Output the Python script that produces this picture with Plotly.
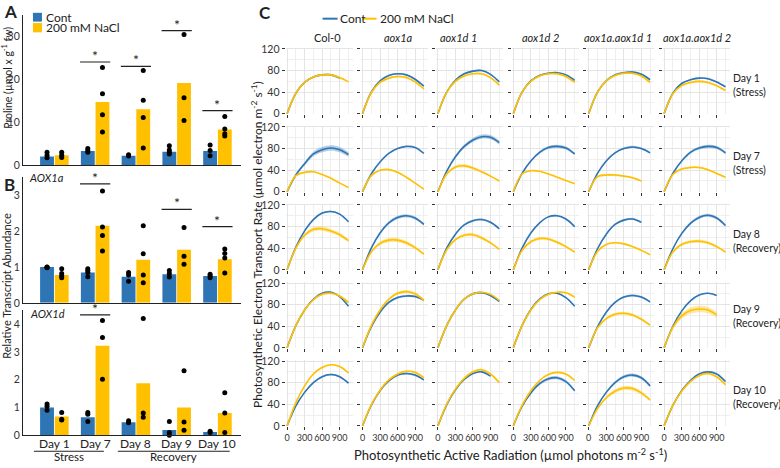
import plotly.graph_objects as go

BLUE = "#2E75B6"
GOLD = "#FFC000"
BLUE_BAND = "rgba(46,117,182,0.35)"
GOLD_BAND = "rgba(255,192,0,0.35)"
FONT = "Lato"
W, H = 780, 468

# ---------------- panel A / B data ----------------
days = ["Day 1", "Day 7", "Day 8", "Day 9", "Day 10"]

proline_cont = [2.0, 3.3, 2.2, 3.1, 3.3]
proline_nacl = [2.3, 14.7, 13.0, 19.1, 8.3]
proline_cont_pts = [[3.0, 2.3, 1.7], [3.9, 3.4, 3.0], [2.4, 2.1], [4.5, 3.5, 3.0, 2.6], [4.7, 3.4, 2.2]]
proline_nacl_pts = [[3.0, 2.3, 1.8], [22.7, 16.6, 11.7, 7.7], [22.0, 15.1, 11.1, 4.0],
                    [30.4, 15.7, 10.4], [11.3, 8.4, 7.3, 6.8]]
proline_sig = [None, 24.0, 23.0, 31.3, 12.7]

aox1a_cont = [1.0, 0.85, 0.73, 0.8, 0.75]
aox1a_nacl = [0.78, 2.15, 1.2, 1.48, 1.22]
aox1a_cont_pts = [[1.0, 0.99, 0.98], [0.95, 0.9, 0.85, 0.73], [0.85, 0.78, 0.6], [0.9, 0.82, 0.72], [0.8, 0.75, 0.7]]
aox1a_nacl_pts = [[0.95, 0.82, 0.75, 0.7], [3.12, 2.12, 1.88, 1.45], [2.15, 1.37, 0.78, 0.56],
                  [2.1, 1.3, 1.08], [1.5, 1.38, 1.25, 0.83]]
aox1a_sig = [None, 3.32, None, 2.61, 2.13]

aox1d_cont = [1.0, 0.65, 0.47, 0.19, 0.12]
aox1d_nacl = [0.68, 3.22, 1.87, 1.0, 0.8]
aox1d_cont_pts = [[1.13, 1.05, 0.9], [0.82, 0.76, 0.5], [0.52, 0.45], [0.5, 0.1, 0.0], [0.15, 0.1]]
aox1d_nacl_pts = [[0.82, 0.58, 0.55], [4.13, 3.52, 2.02], [4.2, 0.8, 0.65], [2.32, 0.48, 0.18], [1.53, 0.8, 0.1]]
aox1d_sig = [None, 4.33, None, None, None]

# ---------------- panel C data ----------------
genotypes = ["Col-0", "<i>aox1a</i>", "<i>aox1d 1</i>", "<i>aox1d 2</i>", "<i>aox1a.aox1d 1</i>", "<i>aox1a.aox1d 2</i>"]
row_labels = ["Day 1<br>(Stress)", "Day 7<br>(Stress)", "Day 8<br>(Recovery)", "Day 9<br>(Recovery)", "Day 10<br>(Recovery)"]
PAR = [0, 150, 300, 450, 600, 750, 900, 1050]

cont_day1 = [[0, 38, 58, 68, 72, 72, 66, None], [0, 40, 61, 71, 74, 72, 64, 51], [0, 40, 62, 74, 79, 80, 73, 59],
             [0, 40, 61, 71, 75, 76, 72, 62], [0, 40, 61, 72, 76, 77, 73, 63], [0, 38, 56, 63, 66, 65, 59, 50]]
nacl_day1 = [[0, 38, 58, 68, 72, 72, 67, 59], [0, 39, 58, 66, 69, 67, 59, 46], [0, 40, 60, 70, 74, 74, 67, 53],
             [0, 40, 60, 70, 74, 74, 69, 58], [0, 40, 61, 71, 75, 75, 70, 58], [0, 37, 52, 58, 60, 58, 52, 43]]
cont_day7 = [[0, 31, 52, 70, 78, 81, 78, 69], [0, 33, 55, 71, 80, 84, 82, 71], [0, 38, 65, 84, 96, 102, 101, 91],
             [0, 34, 57, 73, 82, 84, 81, 70], [0, 34, 57, 72, 80, 83, 80, 72], [0, 34, 57, 73, 81, 84, 82, 72]]
nacl_day7 = [[0, 30, 36, 37, 32, 25, 16, 8], [0, 30, 40, 41, 36, 27, 16, 5], [0, 33, 46, 48, 44, 37, 29, 20],
             [0, 33, 39, 38, 33, 27, 21, 15], [0, 28, 31, 31, 29, 26, 20, None], [0, 32, 42, 45, 45, 41, 34, 27]]
cont_day8 = [[0, 42, 72, 93, 105, 108, 103, 89], [0, 40, 68, 87, 97, 100, 96, 84], [0, 40, 66, 83, 91, 93, 88, 76],
             [0, 40, 68, 87, 98, 100, 94, 80], [0, 39, 66, 84, 92, 94, 88, None], [0, 39, 67, 86, 97, 101, 96, 82]]
nacl_day8 = [[0, 40, 64, 75, 76, 72, 65, 54], [0, 33, 49, 55, 55, 50, 41, 29], [0, 37, 56, 64, 65, 59, 50, 38],
             [0, 36, 52, 58, 57, 51, 43, 33], [0, 34, 47, 50, 48, 43, 36, 28], [0, 33, 47, 52, 53, 50, 43, 33]]
cont_day9 = [[0, 41, 70, 90, 101, 103, 95, 77], [0, 39, 66, 84, 93, 96, 95, 88], [0, 41, 70, 90, 100, 102, 97, 86],
             [0, 41, 71, 90, 100, 101, 93, 77], [0, 39, 66, 84, 94, 97, 94, 85], [0, 40, 68, 87, 98, 101, 97, None]]
nacl_day9 = [[0, 41, 70, 89, 99, 101, 96, 84], [0, 41, 70, 90, 101, 104, 100, 88], [0, 41, 70, 90, 100, 103, 99, 88],
             [0, 41, 70, 89, 99, 103, 102, 94], [0, 37, 54, 62, 64, 61, 53, 42], [0, 38, 59, 69, 72, 70, 61, None]]
cont_day10 = [[0, 37, 62, 80, 91, 95, 91, 79], [0, 38, 65, 83, 94, 97, 94, 85], [0, 39, 67, 86, 97, 100, 92, None],
              [0, 36, 61, 78, 87, 89, 82, 65], [0, 37, 62, 80, 91, 94, 89, 74], [0, 38, 65, 84, 96, 100, 96, 82]]
nacl_day10 = [[0, 43, 74, 96, 108, 113, 110, 98], [0, 39, 66, 85, 96, 101, 99, 89], [0, 40, 68, 88, 100, 104, 96, 80],
              [0, 38, 65, 84, 95, 99, 96, 84], [0, 32, 52, 64, 70, 69, 61, 48], [0, 38, 64, 82, 93, 97, 91, 76]]

# half-width of the shaded error band at the curve peak
cont_err = [[1.5, 1.5, 1.5, 1.5, 2, 1.5], [5, 0.5, 4, 3, 2, 3], [1.5, 3, 2, 1.5, 2, 3],
            [1.5, 2, 2, 1, 2, 1], [2, 2, 1, 3, 3, 1]]
nacl_err = [[1.5, 2, 2, 2, 2, 2], [1, 1.5, 3, 1, 2, 2], [4, 4, 3, 3, 1.5, 3],
            [2, 3, 1.5, 1.5, 3, 6], [1.5, 1.5, 1.5, 1.5, 4, 2]]

cont_rows = [cont_day1, cont_day7, cont_day8, cont_day9, cont_day10]
nacl_rows = [nacl_day1, nacl_day7, nacl_day8, nacl_day9, nacl_day10]


def px(x):
    return x / W


def py(y):
    return 1 - y / H


fig = go.Figure()
layout = {}
shapes = []
annotations = []


def ann(x, y, text, size=12, xanchor="center", yanchor="middle", angle=0, **kw):
    annotations.append(dict(x=px(x), y=py(y), xref="paper", yref="paper", text=text, showarrow=False,
                            font=dict(size=size, color="#222", family=FONT), xanchor=xanchor,
                            yanchor=yanchor, textangle=angle, **kw))


# ---------------- bar panels ----------------
bar_panels = [
    (1, proline_cont, proline_nacl, proline_cont_pts, proline_nacl_pts, proline_sig, (10, 164), 35, [0, 10, 20, 30]),
    (2, aox1a_cont, aox1a_nacl, aox1a_cont_pts, aox1a_nacl_pts, aox1a_sig, (176.6, 305), 3.5, [0, 1, 2, 3]),
    (3, aox1d_cont, aox1d_nacl, aox1d_cont_pts, aox1d_nacl_pts, aox1d_sig, (312.5, 440.7), 4.5, [0, 1, 2, 3, 4]),
]
xs = list(range(len(days)))
for k, cont, nacl, cpts, npts, sig, (top, bot), ymax, yt in bar_panels:
    xa, ya = ("x", "y") if k == 1 else (f"x{k}", f"y{k}")
    fig.add_trace(go.Bar(x=xs, y=cont, width=0.34, offset=-0.35, marker=dict(color=BLUE, line_width=0),
                         showlegend=False, xaxis=xa, yaxis=ya))
    fig.add_trace(go.Bar(x=xs, y=nacl, width=0.34, offset=0.01, marker=dict(color=GOLD, line_width=0),
                         showlegend=False, xaxis=xa, yaxis=ya))
    dx, dy = [], []
    for i in xs:
        for v in cpts[i]:
            dx.append(i - 0.18)
            dy.append(v)
        for v in npts[i]:
            dx.append(i + 0.18)
            dy.append(v)
    fig.add_trace(go.Scatter(x=dx, y=dy, mode="markers", marker=dict(color="black", size=5),
                             showlegend=False, xaxis=xa, yaxis=ya, cliponaxis=False))
    for i, s in enumerate(sig):
        if s is None:
            continue
        shapes.append(dict(type="line", xref=xa, yref=ya, x0=i - 0.37, x1=i + 0.37, y0=s, y1=s,
                           line=dict(color="#222", width=1.2)))
        annotations.append(dict(x=i, y=s, xref=xa, yref=ya, text="*", showarrow=False, yanchor="bottom",
                                yshift=-4, font=dict(size=14, color="#222", family=FONT)))
    key = "" if k == 1 else str(k)
    layout["xaxis" + key] = dict(domain=[px(22), px(240)], range=[-0.77, 4.57], anchor=ya,
                                 showline=True, linecolor="#222", linewidth=1.2, showgrid=False,
                                 zeroline=False, ticks="", showticklabels=False)
    layout["yaxis" + key] = dict(domain=[py(bot), py(top)], range=[0, ymax], anchor=xa, tickvals=yt,
                                 showline=True, linecolor="#222", linewidth=1.2, showgrid=False,
                                 zeroline=False, ticks="", ticklen=0,
                                 tickfont=dict(size=10.5, color="#333", family=FONT))

# day labels under the AOX1d panel
for i, d in enumerate(days):
    annotations.append(dict(x=i, y=py(449), xref="x3", yref="paper", text=d, showarrow=False,
                            font=dict(size=12, color="#222", family=FONT), yanchor="middle"))

# bar legend (panel A)
shapes.append(dict(type="rect", xref="paper", yref="paper", x0=px(32), x1=px(41), y0=py(17), y1=py(8),
                   fillcolor=BLUE, line_width=0))
shapes.append(dict(type="rect", xref="paper", yref="paper", x0=px(32), x1=px(41), y0=py(28), y1=py(18.5),
                   fillcolor=GOLD, line_width=0))
ann(43, 12.5, "Cont", xanchor="left")
ann(43, 23.5, "200 mM NaCl", xanchor="left")

# labels for panels A and B
ann(1, 7, "<b>A</b>", size=17, xanchor="left")
ann(1, 184, "<b>B</b>", size=17, xanchor="left")
ann(5.5, 74, "Proline (µmol x g<sup>-1</sup> fw)", size=10.5, angle=-90)
ann(5.5, 287, "Relative Transcript Abundance", size=11, angle=-90)
ann(26, 177, "<i>AOX1a</i>", size=11, xanchor="left")
ann(27, 316, "<i>AOX1d</i>", size=11, xanchor="left")

# stress / recovery groups
shapes.append(dict(type="line", xref="paper", yref="paper", x0=px(33), x1=px(103), y0=py(457), y1=py(457),
                   line=dict(color="#222", width=1)))
shapes.append(dict(type="line", xref="paper", yref="paper", x0=px(117), x1=px(229), y0=py(457), y1=py(457),
                   line=dict(color="#222", width=1)))
ann(68, 462, "Stress", size=11.5)
ann(173, 462, "Recovery", size=11.5)

# ---------------- panel C ----------------
for r in range(5):
    top120 = 45 + r * 79.9
    bot0 = top120 + 66.4
    ppu = 66.4 / 120
    for c in range(6):
        k = 4 + r * 6 + c
        xa, ya = f"x{k}", f"y{k}"
        left = 285 + c * 75.5
        for vals_rows, err_rows, color, band in ((cont_rows, cont_err, BLUE, BLUE_BAND),
                                                 (nacl_rows, nacl_err, GOLD, GOLD_BAND)):
            vals = vals_rows[r][c]
            xv = [p for p, v in zip(PAR, vals) if v is not None]
            yv = [v for v in vals if v is not None]
            peak = max(yv)
            e = err_rows[r][c]
            up = [v + e * v / peak for v in yv]
            lo = [v - e * v / peak for v in yv]
            fig.add_trace(go.Scatter(x=xv, y=up, mode="lines", line=dict(width=0, shape="spline", color=color),
                                     hoverinfo="skip", showlegend=False, xaxis=xa, yaxis=ya))
            fig.add_trace(go.Scatter(x=xv, y=lo, mode="lines", line=dict(width=0, shape="spline", color=color),
                                     fill="tonexty", fillcolor=band, hoverinfo="skip", showlegend=False,
                                     xaxis=xa, yaxis=ya))
            fig.add_trace(go.Scatter(x=xv, y=yv, mode="lines", line=dict(width=1.6, shape="spline", color=color),
                                     showlegend=False, xaxis=xa, yaxis=ya))
        layout[f"xaxis{k}"] = dict(domain=[px(left), px(left + 67)], range=[-25, 1120], anchor=ya,
                                   tick0=0, dtick=300, showgrid=True, gridcolor="#e4e4e4", gridwidth=1,
                                   minor=dict(dtick=150, showgrid=True, gridcolor="#efefef", ticks=""),
                                   zeroline=False, showline=False, ticks="outside", ticklen=3,
                                   tickcolor="#333", showticklabels=(r == 4), tickangle=0,
                                   tickfont=dict(size=9, color="#333", family=FONT))
        layout[f"yaxis{k}"] = dict(domain=[py(bot0 + ppu), py(top120 - 2 * ppu)], range=[-1, 122], anchor=xa,
                                   tick0=0, dtick=40, showgrid=True, gridcolor="#e4e4e4",
                                   minor=dict(dtick=20, showgrid=True, gridcolor="#efefef", ticks=""),
                                   zeroline=False, showline=False, ticks="outside", ticklen=3,
                                   tickcolor="#333", showticklabels=(c == 0),
                                   tickfont=dict(size=10.5, color="#333", family=FONT))
    ann(731, 82 + r * 79.9 - (3 if r == 3 else 0), row_labels[r], size=10.5, xanchor="left", align="left")

title_x = [326.7, 398, 458.3, 540, 618, 697]
for c, g in enumerate(genotypes):
    ann(title_x[c], 33, g, size=11)

# line legend (panel C)
shapes.append(dict(type="line", xref="paper", yref="paper", x0=px(322), x1=px(337), y0=py(14), y1=py(14),
                   line=dict(color=BLUE, width=2)))
shapes.append(dict(type="line", xref="paper", yref="paper", x0=px(362), x1=px(376), y0=py(14), y1=py(14),
                   line=dict(color=GOLD, width=2)))
ann(337, 14, "Cont", xanchor="left")
ann(377, 14, "200 mM NaCl", xanchor="left")

ann(256, 8, "<b>C</b>", size=17, xanchor="left")
ann(257, 245, "Photosynthetic Electron Transport Rate (µmol electron m<sup>-2</sup> s<sup>-1</sup>)", size=12, angle=-90)
ann(510, 460, "Photosynthetic Active Radiation (µmol photons m<sup>-2</sup> s<sup>-1</sup>)", size=13)

fig.update_layout(**layout)
fig.update_layout(width=W, height=H, margin=dict(l=0, r=0, t=0, b=0), barmode="overlay",
                  paper_bgcolor="white", plot_bgcolor="white", showlegend=False,
                  font=dict(family=FONT, color="#222"), shapes=shapes, annotations=annotations)
fig.write_html("out.html", config={"displayModeBar": False},
               post_script="document.body.style.margin='0';")
